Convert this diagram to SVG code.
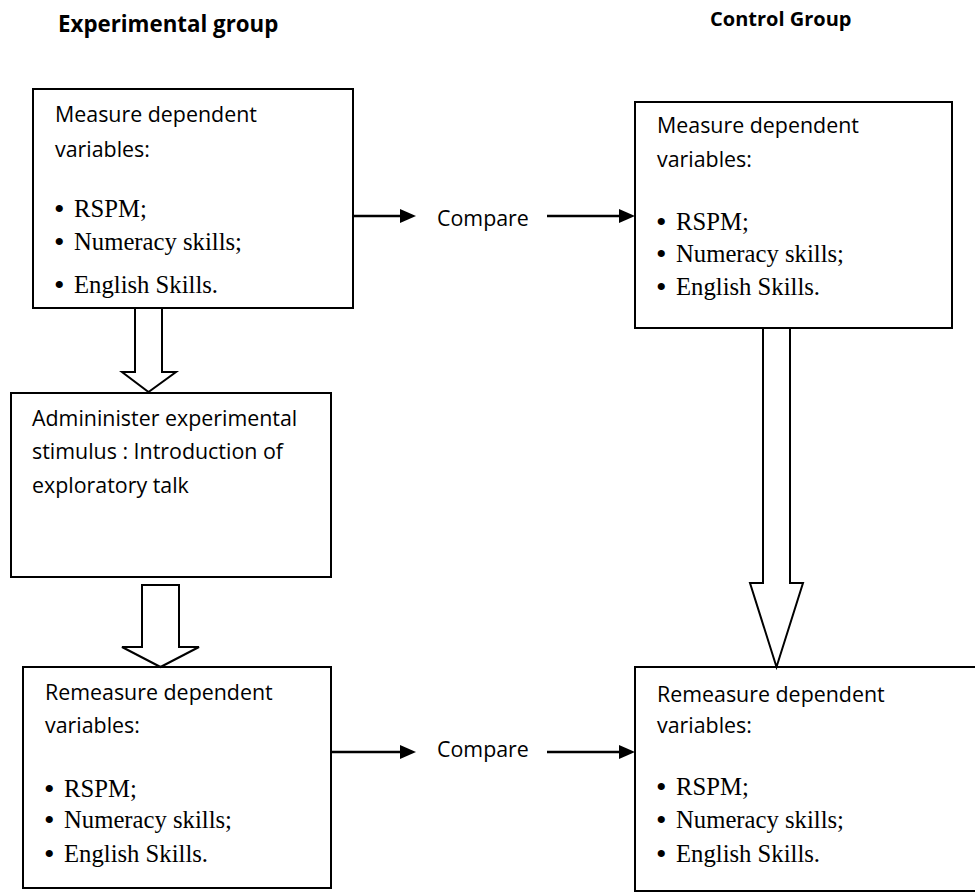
<svg xmlns="http://www.w3.org/2000/svg" width="975" height="893" viewBox="0 0 975 893">
  <style>
    .box { fill: #ffffff; stroke: #000000; stroke-width: 2; }
    .blk { fill: #ffffff; stroke: #000000; stroke-width: 2; stroke-linejoin: miter; }
    .ln { stroke: #000000; stroke-width: 2.5; fill: none; }
    .head { fill: #000000; }
    .title { font-family: "Open Sans", "Liberation Sans", sans-serif; font-weight: bold; fill: #000000; }
    .sans { font-family: "Open Sans", "Liberation Sans", sans-serif; font-size: 21.4px; fill: #000000; }
    .serif { font-family: "Liberation Serif", "Times New Roman", serif; font-size: 24.7px; fill: #000000; }
    .dot { font-size: 30px; }
  </style>

  <rect x="0" y="0" width="975" height="893" fill="#ffffff"/>

  <!-- column headings -->
  <text class="title" x="58" y="32" font-size="22.3">Experimental group</text>
  <text class="title" x="710" y="26" font-size="20">Control Group</text>

  <!-- experimental: first measurement -->
  <g id="exp-measure">
    <rect class="box" x="33" y="89" width="320" height="219"/>
    <text class="sans" x="55" y="122">Measure dependent</text>
    <text class="sans" x="55" y="157">variables:</text>
    <text class="serif" x="54" y="217"><tspan class="dot" dy="2">•</tspan><tspan x="74" dy="-2">RSPM;</tspan></text>
    <text class="serif" x="54" y="250"><tspan class="dot" dy="2">•</tspan><tspan x="74" dy="-2">Numeracy skills;</tspan></text>
    <text class="serif" x="54" y="293"><tspan class="dot" dy="2">•</tspan><tspan x="74" dy="-2">English Skills.</tspan></text>
  </g>

  <!-- control: first measurement -->
  <g id="ctl-measure">
    <rect class="box" x="635" y="102" width="317" height="226"/>
    <text class="sans" x="657" y="133">Measure dependent</text>
    <text class="sans" x="657" y="167">variables:</text>
    <text class="serif" x="656" y="230"><tspan class="dot" dy="2">•</tspan><tspan x="676" dy="-2">RSPM;</tspan></text>
    <text class="serif" x="656" y="262"><tspan class="dot" dy="2">•</tspan><tspan x="676" dy="-2">Numeracy skills;</tspan></text>
    <text class="serif" x="656" y="295"><tspan class="dot" dy="2">•</tspan><tspan x="676" dy="-2">English Skills.</tspan></text>
  </g>

  <!-- experimental: stimulus -->
  <g id="exp-stimulus">
    <rect class="box" x="11" y="393" width="320" height="184"/>
    <text class="sans" x="32" y="426">Admininister experimental</text>
    <text class="sans" x="32" y="459">stimulus : Introduction of</text>
    <text class="sans" x="32" y="493">exploratory talk</text>
  </g>

  <!-- experimental: second measurement -->
  <g id="exp-remeasure">
    <rect class="box" x="23" y="667" width="308" height="221"/>
    <text class="sans" x="45" y="700">Remeasure dependent</text>
    <text class="sans" x="45" y="733">variables:</text>
    <text class="serif" x="44" y="797"><tspan class="dot" dy="2">•</tspan><tspan x="64" dy="-2">RSPM;</tspan></text>
    <text class="serif" x="44" y="828"><tspan class="dot" dy="2">•</tspan><tspan x="64" dy="-2">Numeracy skills;</tspan></text>
    <text class="serif" x="44" y="862"><tspan class="dot" dy="2">•</tspan><tspan x="64" dy="-2">English Skills.</tspan></text>
  </g>

  <!-- control: second measurement (runs past the right edge) -->
  <g id="ctl-remeasure">
    <rect class="box" x="635" y="667" width="360" height="224"/>
    <text class="sans" x="657" y="702">Remeasure dependent</text>
    <text class="sans" x="657" y="733">variables:</text>
    <text class="serif" x="656" y="795"><tspan class="dot" dy="2">•</tspan><tspan x="676" dy="-2">RSPM;</tspan></text>
    <text class="serif" x="656" y="828"><tspan class="dot" dy="2">•</tspan><tspan x="676" dy="-2">Numeracy skills;</tspan></text>
    <text class="serif" x="656" y="862"><tspan class="dot" dy="2">•</tspan><tspan x="676" dy="-2">English Skills.</tspan></text>
  </g>

  <!-- compare labels -->
  <g id="compare-top">
    <text class="sans" x="437" y="226">Compare</text>
  </g>
  <g id="compare-bottom">
    <text class="sans" x="437" y="757">Compare</text>
  </g>

  <!-- connectors -->
  <g id="connectors">
    <line class="ln" x1="353" y1="216" x2="402" y2="216"/>
    <polygon class="head" points="400,209 416,216 400,223"/>
    <line class="ln" x1="547" y1="216" x2="621" y2="216"/>
    <polygon class="head" points="619,209 635,216 619,223"/>

    <line class="ln" x1="331" y1="752" x2="402" y2="752"/>
    <polygon class="head" points="400,745 416,752 400,759"/>
    <line class="ln" x1="547" y1="752" x2="621" y2="752"/>
    <polygon class="head" points="619,745 635,752 619,759"/>

    <polygon class="blk" points="135,308 135,372 122,372 148.5,392 176,372 162,372 162,308"/>
    <polygon class="blk" points="142,585 142,647 122,647 160.5,667 199,647 179,647 179,585"/>
    <polygon class="blk" points="763,328 763,583 750,583 776.5,667 803,583 790,583 790,328"/>
  </g>
</svg>
